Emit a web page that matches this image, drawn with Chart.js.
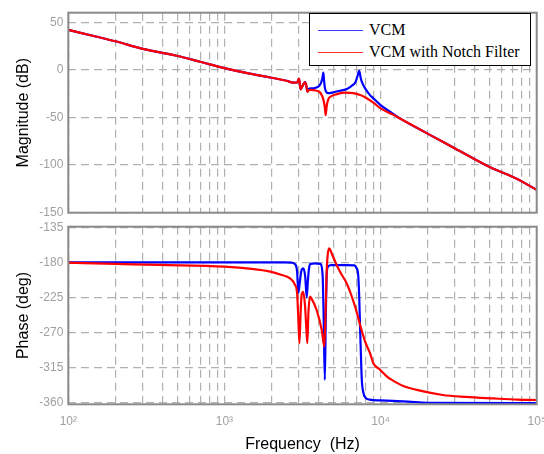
<!DOCTYPE html>
<html>
<head>
<meta charset="utf-8">
<script src="https://cdn.jsdelivr.net/npm/chart.js@4.4.0/dist/chart.umd.min.js"></script>
<style>
  html, body { margin: 0; padding: 0; background: #fff; }
  #wrap { position: relative; width: 544px; height: 454px; overflow: hidden; }
  #wrap canvas { position: absolute; left: 0; }
  #magChart { top: 0; }
  #phaseChart { top: 220px; }
  .legend {
    position: absolute; left: 309px; top: 13px; width: 222px; height: 53px;
    box-sizing: border-box; border: 1.5px solid #000; background: #fff;
    font-family: 'Liberation Serif', 'Times New Roman', serif; font-size: 16px; color: #000;
  }
  .legend .row { position: absolute; left: 8px; height: 20px; display: flex; align-items: center; white-space: nowrap; }
  .legend .swatch { width: 45px; height: 0; border-top: 1.5px solid; margin-right: 6px; }
</style>
</head>
<body>
<div id="wrap">
  <canvas id="magChart" width="544" height="220"></canvas>
  <canvas id="phaseChart" width="544" height="234"></canvas>
  <div class="legend">
    <div class="row" style="top:6px"><span class="swatch" style="border-color:#3b3bff"></span>VCM</div>
    <div class="row" style="top:28px"><span class="swatch" style="border-color:#ff3030"></span>VCM with Notch Filter</div>
  </div>
</div>
<script>
'use strict';

// ── Data ──────────────────────────────────────────────────────
const magFreqVcm = [100, 150, 200, 300, 520, 700, 1000, 1400, 1960, 2500, 2760, 2900, 2960, 3000, 3030, 3080, 3140, 3220, 3290, 3340, 3400, 3460, 3600, 3800, 4000, 4150, 4250, 4300, 4340, 4400, 4500, 4650, 5000, 5500, 6000, 6500, 6900, 7100, 7300, 7450, 7600, 8000, 8500, 9000, 10000, 11500, 13300, 20000, 30000, 50000, 75000, 100000];
const magVcm     = [42, 35, 30, 22, 14, 8.5, 1.8, -3.5, -8, -11.5, -13.5, -13.5, -11.5, -9.3, -13, -20.5, -18, -14.5, -12.8, -16, -23, -20, -19.5, -19, -17.5, -14, -8, -2.8, -10, -19, -23.5, -24.5, -23.5, -22, -20.5, -17, -13, -7, -1, -8, -13, -20, -26, -30, -37, -44, -51, -67, -82.5, -102, -114.5, -126];

const magFreqNotch = [100, 150, 200, 300, 520, 700, 1000, 1400, 1960, 2500, 2760, 2900, 2960, 3000, 3030, 3080, 3140, 3220, 3290, 3340, 3400, 3460, 3600, 3800, 4000, 4150, 4300, 4400, 4450, 4520, 4600, 4800, 5250, 6000, 6700, 7400, 8000, 9000, 10000, 12000, 13300, 20000, 30000, 50000, 75000, 100000];
const magNotch     = [42, 35, 30, 22, 14, 8.5, 1.8, -3.5, -8, -11.5, -13.5, -13.5, -11.5, -9.3, -13, -20.5, -18, -14.5, -12.8, -16, -23, -21.5, -21, -21.5, -22.5, -25, -31, -40, -47.6, -38, -32, -28, -25.5, -24, -24.5, -26.5, -29, -34.5, -40.5, -47, -51, -67, -82.5, -102, -114.5, -126];

const phaseFreqVcm = [100, 1000, 2400, 2700, 2850, 2920, 2975, 3030, 3100, 3200, 3290, 3365, 3420, 3480, 3560, 3800, 4100, 4250, 4320, 4395, 4450, 4510, 4590, 4800, 6000, 6800, 7000, 7200, 7300, 7400, 7500, 7580, 7750, 8000, 8500, 10000, 15000, 20000, 100000];
const phaseVcm     = [-180, -180, -180, -180.5, -183, -192, -219, -208, -192, -187.7, -198, -225, -205, -188, -182, -181.3, -182, -195, -250, -331, -260, -200, -186, -183.5, -183.5, -184, -187, -198, -225, -267, -305, -331, -347, -354, -356.5, -357.5, -359, -360.5, -361];

const phaseFreqNotch = [100, 200, 386, 1000, 1500, 1960, 2300, 2630, 2830, 2920, 2970, 3020, 3070, 3120, 3200, 3280, 3340, 3395, 3450, 3530, 3600, 3890, 4200, 4365, 4450, 4520, 4600, 4700, 4850, 5250, 5600, 6070, 6870, 7400, 8000, 8570, 9000, 9930, 11000, 12000, 14000, 17900, 25000, 35000, 52800, 75000, 100000];
const phaseNotch     = [-180.5, -182, -183.4, -185.6, -188.5, -192, -196, -200.6, -209, -220, -250, -284, -250, -222, -217.8, -235, -262, -284, -245, -224, -226, -241, -267, -288.5, -240, -190, -168, -162, -168, -184, -195, -207, -237, -260.6, -283, -297, -310, -318, -327, -332, -339, -345, -350.5, -353, -355, -356.5, -357];

const xGridTicks = [100, 200, 300, 400, 500, 600, 700, 800, 900,
                    1000, 2000, 3000, 4000, 5000, 6000, 7000, 8000, 9000,
                    10000, 20000, 30000, 40000, 50000, 60000, 70000, 80000, 90000, 100000];
const decadeLabels = { 100: '10²', 1000: '10³', 10000: '10⁴', 100000: '10⁵' };
const magTicks   = [-150, -100, -50, 0, 50];
const phaseTicks = [-360, -315, -270, -225, -180, -135];

// ── Style ─────────────────────────────────────────────────────
const BLUE = '#0000ff';
const RED  = '#ff0000';
const GRID = '#b0b0b0';
const TICK = '#a0a0a0';
const SANS = "Arial, 'Liberation Sans', sans-serif";

const pts = (xs, ys) => xs.map((x, i) => ({ x, y: ys[i] }));

const frame = {
  id: 'frame',
  afterDraw(chart) {
    const { ctx, chartArea: a } = chart;
    ctx.save();
    ctx.strokeStyle = '#8a8a8a';
    ctx.lineWidth = 2;
    ctx.strokeRect(a.left, a.top, a.right - a.left, a.bottom - a.top);
    ctx.restore();
  }
};

function lineSet(label, data, color, order) {
  return {
    label, data, order,
    borderColor: color,
    borderWidth: 2.2,
    pointRadius: 0,
    fill: false,
    cubicInterpolationMode: 'monotone'
  };
}

function makeChart(id, datasets, yMin, yMax, yTicks, yTitle, showX, pad) {
  return new Chart(document.getElementById(id), {
    type: 'line',
    data: { datasets },
    plugins: [frame],
    options: {
      responsive: false,
      animation: false,
      devicePixelRatio: 1,
      layout: { padding: pad },
      plugins: { legend: { display: false }, tooltip: { enabled: false } },
      scales: {
        x: {
          type: 'logarithmic',
          min: 100,
          max: 100000,
          afterBuildTicks: s => { s.ticks = xGridTicks.map(v => ({ value: v })); },
          afterFit: s => { s.height = showX ? 49.7 : 0; s.paddingLeft = 0; s.paddingRight = 0; },
          grid: { color: GRID, lineWidth: 1.2, drawTicks: false },
          border: { display: false, dash: [8, 5] },
          ticks: {
            display: showX,
            autoSkip: false,
            maxRotation: 0,
            padding: 10,
            color: TICK,
            font: { family: SANS, size: 12 },
            callback: v => decadeLabels[v] || ''
          },
          title: {
            display: showX,
            text: 'Frequency  (Hz)',
            color: '#000',
            font: { family: SANS, size: 16 },
            padding: { top: 0, bottom: 0 }
          }
        },
        y: {
          min: yMin,
          max: yMax,
          afterBuildTicks: s => { s.ticks = yTicks.map(v => ({ value: v })); },
          afterFit: s => { s.width = 68.3; s.paddingTop = 0; s.paddingBottom = 0; },
          grid: { color: GRID, lineWidth: 1.2, drawTicks: false },
          border: { display: false, dash: [8, 5] },
          ticks: { padding: 5, color: TICK, font: { family: SANS, size: 12 } },
          title: {
            display: true,
            text: yTitle,
            color: '#000',
            font: { family: SANS, size: 16 },
            padding: { top: 14.4, bottom: 0 }
          }
        }
      }
    }
  });
}

// ── Magnitude ─────────────────────────────────────────────────
makeChart('magChart', [
  lineSet('VCM', pts(magFreqVcm, magVcm), BLUE, 1),
  lineSet('VCM with Notch Filter', pts(magFreqNotch, magNotch), RED, 0)
], -150, 60, magTicks, 'Magnitude (dB)', false, { top: 12.7, right: 7.3, bottom: 7.3, left: 0 });

// ── Phase ─────────────────────────────────────────────────────
makeChart('phaseChart', [
  lineSet('VCM', pts(phaseFreqVcm, phaseVcm), BLUE, 1),
  lineSet('VCM with Notch Filter', pts(phaseFreqNotch, phaseNotch), RED, 0)
], -362.5, -134.2, phaseTicks, 'Phase (deg)', true, { top: 6.7, right: 7.3, bottom: 0, left: 0 });
</script>
</body>
</html>
